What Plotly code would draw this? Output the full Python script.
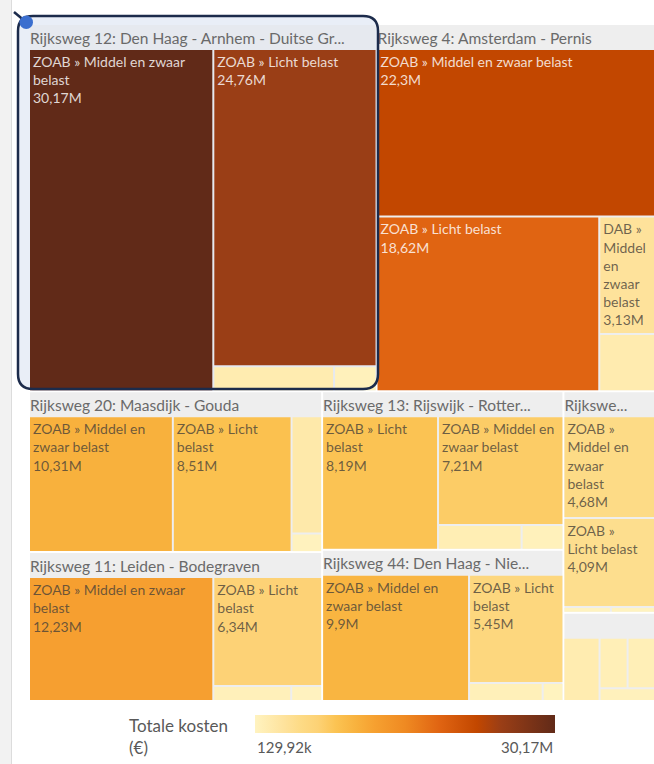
import plotly.graph_objects as go
from plotly.colors import sample_colorscale, unlabel_rgb

W, H = 654, 764

# Wegvakken (bovenste niveau) zoals ze in de kop getoond worden
road_ids = ["A12", "A4", "A20", "A11", "A13", "A44", "A15", "A29"]
road_labels = [
    "Rijksweg 12: Den Haag - Arnhem - Duitse Gr...",
    "Rijksweg 4: Amsterdam - Pernis",
    "Rijksweg 20: Maasdijk - Gouda",
    "Rijksweg 11: Leiden - Bodegraven",
    "Rijksweg 13: Rijswijk - Rotter...",
    "Rijksweg 44: Den Haag - Nie...",
    "Rijkswe...",
    "Overige wegen",
]

# Verhardingstypen per wegvak (labels met regelafbreking) en totale kosten in miljoen euro
surface_labels = {
    "A12": ["ZOAB » Middel en zwaar<br>belast", "ZOAB » Licht belast",
            "DAB » Middel en zwaar belast", "DAB » Licht belast"],
    "A4": ["ZOAB » Middel en zwaar belast", "ZOAB » Licht belast",
           "DAB »<br>Middel<br>en<br>zwaar<br>belast", "DAB » Licht belast"],
    "A20": ["ZOAB » Middel en<br>zwaar belast", "ZOAB » Licht<br>belast",
            "DAB » Middel en zwaar belast", "DAB » Licht belast"],
    "A11": ["ZOAB » Middel en zwaar<br>belast", "ZOAB » Licht<br>belast",
            "DAB » Middel en zwaar belast", "DAB » Licht belast"],
    "A13": ["ZOAB » Licht<br>belast", "ZOAB » Middel en<br>zwaar belast",
            "DAB » Middel en zwaar belast", "DAB » Licht belast"],
    "A44": ["ZOAB » Middel en<br>zwaar belast", "ZOAB » Licht<br>belast",
            "DAB » Middel en zwaar belast", "DAB » Licht belast"],
    "A15": ["ZOAB »<br>Middel en<br>zwaar<br>belast", "ZOAB »<br>Licht belast",
            "DAB » Middel en zwaar belast", "DAB » Licht belast"],
    "A29": ["ZOAB » Middel en zwaar belast", "ZOAB » Licht belast",
            "DAB » Middel en zwaar belast", "DAB » Licht belast"],
}
surface_costs = {
    "A12": [30.17, 24.76, 1.45, 0.51],
    "A4": [22.3, 18.62, 3.13, 1.53],
    "A20": [10.31, 8.51, 1.89, 0.30],
    "A11": [12.23, 6.34, 0.63, 0.25],
    "A13": [8.19, 7.21, 1.10, 0.55],
    "A44": [9.9, 5.45, 0.71, 0.20],
    "A15": [4.68, 4.09, 0.14, 0.12992],
    "A29": [1.42, 0.88, 0.86, 0.44],
}

legend_title = "Totale kosten<br>(€)"
FONT = "Lato, 'Source Sans Pro', sans-serif"

color_stops = [
    [0.00, "#FFF3C0"], [0.10, "#FEE29B"], [0.15, "#FDDB86"], [0.21, "#FDD275"],
    [0.27, "#FBC352"], [0.34, "#F8B13D"], [0.40, "#F6A030"], [0.50, "#EF8A22"],
    [0.615, "#E06412"], [0.74, "#C24700"], [0.82, "#9A3E16"], [1.00, "#612A18"],
]


def fmt_cost(v):
    """Bedrag in miljoenen als '30,17M' / '129,92k'."""
    if v >= 1:
        s = f"{v:.2f}".rstrip("0").rstrip(".")
        return s.replace(".", ",") + "M"
    s = f"{v * 1000:.2f}".rstrip("0").rstrip(".")
    return s.replace(".", ",") + "k"


all_costs = [c for r in road_ids for c in surface_costs[r]]
cmin, cmax = min(all_costs), max(all_costs)

HIDDEN = "rgba(0,0,0,0)"
ids, labels, parents, values, colors, texts, tcolors, tsizes, custom = [], [], [], [], [], [], [], [], []
for rid, rlab in zip(road_ids, road_labels):
    total = sum(surface_costs[rid])
    show_head = total >= 5
    ids.append(rid)
    labels.append(rlab)
    parents.append("")
    values.append(0)
    colors.append("#E6E9EF" if rid == "A12" else "#EEEEEE")
    texts.append("%{label}" if show_head else " ")
    tcolors.append("#6A6A6A" if show_head else HIDDEN)
    tsizes.append(18)
    custom.append("")
    for lab, cost in zip(surface_labels[rid], surface_costs[rid]):
        ids.append(f"{rid}/{lab}")
        labels.append(lab)
        parents.append(rid)
        values.append(cost)
        col = sample_colorscale(color_stops, [(cost - cmin) / (cmax - cmin)])[0]
        colors.append(col)
        r, g, b = unlabel_rgb(col)
        lum = 0.299 * r + 0.587 * g + 0.114 * b
        show = cost >= 2.5
        if not show:
            tcolors.append(HIDDEN)
        elif lum < 140:
            tcolors.append("rgba(255,255,255,0.82)")
        else:
            tcolors.append("rgba(70,64,56,0.78)")
        texts.append("%{label}<br>%{customdata}" if show else " ")
        tsizes.append(14)
        custom.append(fmt_cost(cost))

fig = go.Figure()

fig.add_trace(go.Treemap(
    ids=ids, labels=labels, parents=parents, values=values,
    branchvalues="remainder",
    customdata=custom,
    texttemplate=texts,
    textposition="top left",
    textfont=dict(family=FONT, size=tsizes, color=tcolors),
    marker=dict(colors=colors, line=dict(width=0), pad=dict(t=25, l=0, r=0, b=0)),
    tiling=dict(packing="squarify", squarifyratio=1, pad=2),
    pathbar=dict(visible=False),
    root=dict(color="rgba(0,0,0,0)"),
    sort=True,
    hoverinfo="skip",
    domain=dict(x=[30 / W, 1], y=[1 - 700 / H, 1]),
))

# Kleurschaal als horizontale legenda onder de treemap
fig.add_trace(go.Scatter(
    x=[None], y=[None], mode="markers", showlegend=False, hoverinfo="skip",
    marker=dict(
        colorscale=color_stops, cmin=cmin, cmax=cmax, color=[cmin], showscale=True,
        colorbar=dict(
            orientation="h", lenmode="pixels", len=300, thicknessmode="pixels", thickness=18,
            x=255 / W, xanchor="left", y=1 - 715 / H, yanchor="top",
            xpad=0, ypad=0, outlinewidth=0, showticklabels=False, ticks="",
        ),
    ),
))


def px(x):
    return x / W


def py(y):
    return 1 - y / H


annotations = [
    dict(text=legend_title, x=px(127), y=py(736), xanchor="left", yanchor="middle", align="left",
         showarrow=False, font=dict(family=FONT, size=17, color="#595959")),
    dict(text=fmt_cost(cmin), x=px(255), y=py(747), xanchor="left", yanchor="middle",
         showarrow=False, font=dict(family=FONT, size=15, color="#595959")),
    dict(text=fmt_cost(cmax), x=px(555), y=py(747), xanchor="right", yanchor="middle",
         showarrow=False, font=dict(family=FONT, size=15, color="#595959")),
]
for a in annotations:
    a.update(xref="paper", yref="paper")


def rounded_rect(x0, y0, x1, y1, r):
    return (f"M {px(x0 + r)} {py(y0)} L {px(x1 - r)} {py(y0)} Q {px(x1)} {py(y0)} {px(x1)} {py(y0 + r)} "
            f"L {px(x1)} {py(y1 - r)} Q {px(x1)} {py(y1)} {px(x1 - r)} {py(y1)} "
            f"L {px(x0 + r)} {py(y1)} Q {px(x0)} {py(y1)} {px(x0)} {py(y1 - r)} "
            f"L {px(x0)} {py(y0 + r)} Q {px(x0)} {py(y0)} {px(x0 + r)} {py(y0)} Z")


# selectiekader (pixelposities van het geselecteerde wegvak)
sel = (18, 16, 378, 389)
shapes = [
    # paneelrand links
    dict(type="rect", x0=0, x1=px(11), y0=0, y1=1, fillcolor="#F2F2F2", line=dict(width=0), layer="above"),
    dict(type="line", x0=px(11.5), x1=px(11.5), y0=0, y1=1, line=dict(color="#DCDCDC", width=1)),
    dict(type="path", path=rounded_rect(*sel, 15), fillcolor="#E9EEF7",
         line=dict(width=0), layer="below"),
    dict(type="path", path=rounded_rect(*sel, 15), fillcolor="rgba(0,0,0,0)",
         line=dict(color="#1C2B4B", width=2.5), layer="above"),
    dict(type="line", x0=px(14), y0=py(sel[1] - 4), x1=px(26), y1=py(sel[1] + 6),
         line=dict(color="#1C2B4B", width=2.5)),
    dict(type="circle", x0=px(19.5), x1=px(33), y0=py(sel[1] - 0.5), y1=py(sel[1] + 13),
         fillcolor="#3B6FCF", line=dict(width=0)),
]
for s in shapes:
    s.update(xref="paper", yref="paper")

fig.update_layout(
    width=W, height=H,
    margin=dict(l=0, r=0, t=0, b=0),
    paper_bgcolor="white", plot_bgcolor="rgba(0,0,0,0)",
    font=dict(family=FONT, color="#595959"),
    xaxis=dict(visible=False), yaxis=dict(visible=False),
    annotations=annotations, shapes=shapes,
)

fig.write_html("out.html")
